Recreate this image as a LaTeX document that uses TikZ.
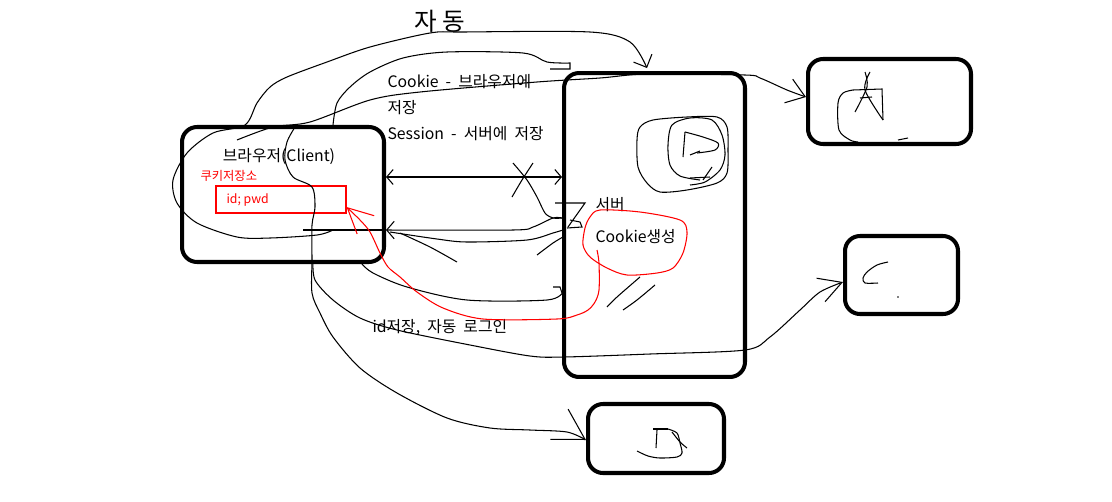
\documentclass[tikz,border=0pt]{standalone}
\usepackage{fontspec}
\newfontfamily\kr{Noto Sans CJK KR}
\usetikzlibrary{arrows.meta}
\newcommand\gap{\hspace{0.45em}}

\begin{document}
\begin{tikzpicture}[x=0.02cm, y=-0.02cm, line width=0.6pt,
    >={Straight Barb[length=3.5mm,width=5mm]},
    every node/.style={font=\kr\fontsize{9}{10}\selectfont, inner sep=0pt},
    box/.style={draw, line width=2.3pt, rounded corners=0.3cm},
    redpen/.style={red, line width=0.6pt},
    smalltip/.style={{Straight Barb[length=1.3mm,width=3mm]}-{Straight Barb[length=1.3mm,width=3mm]}}]
  \useasboundingbox (0,0) rectangle (1112,501);

  % Boxes
  \node[box, minimum width=4.04cm, minimum height=2.7cm] (client) at (283,194.5) {};
  \node[box, minimum width=3.62cm, minimum height=6.08cm] (server) at (654.5,225) {};
  \node[box, minimum width=3.26cm, minimum height=1.7cm] (abox) at (889.5,101.5) {};
  \node[box, minimum width=2.26cm, minimum height=1.56cm] (cbox) at (901.5,275) {};
  \node[box, minimum width=2.72cm, minimum height=1.38cm] (dbox) at (656,438.5) {};
  \node[draw=red, line width=0.6pt, minimum width=2.6cm, minimum height=0.54cm] (store) at (281,199.5) {};

  % Labels
  \node (browser) at (279,157) {브라우저(Client)};
  \node[anchor=west, red, font=\kr\fontsize{7}{8}\selectfont] (storelabel) at (200,176) {쿠키저장소};
  \node[anchor=west, red, font=\kr\fontsize{7}{8}\selectfont] (idpwd) at (226,200) {id; pwd};
  \node[anchor=west] (cookie) at (387,82) {Cookie\gap{}-\gap{}브라우저에};
  \node[anchor=west] (cookie2) at (387,108) {저장};
  \node[anchor=west] (session) at (387,134) {Session\gap{}-\gap{}서버에\gap{}저장};
  \node[anchor=west] (serverlabel) at (595,205) {서버};
  \node[anchor=west] (make) at (595,237) {Cookie생성};
  \node[anchor=west] (autologin) at (372,327) {id저장,\gap{}자동\gap{}로그인};
  \node[font=\kr\fontsize{14}{16}\selectfont] (auto) at (440,21) {자 동};

  % Connectors client <-> server
  \draw[smalltip] (client.east |- 0,177) -- (server.west |- 0,177);
  \draw[-{Straight Barb[length=1.5mm,width=3.5mm]}] plot[smooth] coordinates {(server.west |- 0,218) (553,218) (533,227) (513,230) (client.east |- 0,230)};
  \draw (client.east |- 0,230) -- (303,230);
  \draw plot[smooth] coordinates {(390,232) (437,239) (467,242) (527,240) (553,233) (563,230)};
  \draw plot[smooth] coordinates {(400,233) (430,247) (457,262)};
  \draw plot[smooth] coordinates {(537,255) (553,243) (563,237)};
  \draw plot[smooth] coordinates {(client.south -| 362,0) (373,273) (407,287) (467,300) (547,300) (563,292)};
  \draw (553,287) -- (560,287) -- (562,293);

  % Arcs over the top
  \draw[-{Straight Barb[length=2mm,width=4mm]}] plot[smooth] coordinates {(333,230) (317,235) (270,238) (237,237) (197,223) (177,203) (173,180) (187,153) (213,133) (245,125) (257,103) (270,87) (287,77) (327,62) (370,47) (430,33) (463,32) (590,32) (630,42) (647,68)};
  \draw plot[smooth] coordinates {(client.north -| 333,0) (337,103) (350,87) (370,72) (403,58) (447,52) (523,53) (547,62) (570,63)} -- (570,69) -- (550,69);
  \draw[->] plot[smooth] coordinates {(237,140) (273,127) (310,122) (370,100) (420,92) (537,82) (600,78) (647,74) (745,75) (760,78) (787,90) (abox.west |- 0,97)};

  % Connectors to C and D
  \draw[-{Straight Barb[length=6mm,width=7mm]}] plot[smooth] coordinates {(295,127) (287,142) (285,160) (293,177) (312,187) (315,207) (312,225) (312,260) (312,293) (320,313) (333,337) (360,368) (397,393) (447,418) (490,428) (530,430) (567,432) (dbox.west |- 0,440)};
  \draw[-{Straight Barb[length=4.5mm,width=5mm]}] plot[smooth] coordinates {(313,260) (315,280) (333,300) (360,318) (397,330) (470,345) (530,356) (564,357) (650,354) (745,350) (770,337) (800,310) (820,292) (cbox.west |- 0,282)};

  % Cookie creation
  \draw[redpen] plot[smooth cycle] coordinates {(600,210) (640,212) (680,220) (687,232) (683,253) (673,268) (657,273) (627,275) (607,268) (590,257) (583,245) (585,228) (590,217)};
  \draw[redpen,-{Straight Barb[length=5mm,width=5mm]}] plot[smooth] coordinates {(597,250) (599,263) (599,290) (595,302) (588,310) (577,315) (557,319) (483,319) (443,308) (417,292) (400,277) (388,267) (380,253) (370,232) (360,220) (store.east |- 0,207)};

  % Scribbles in the server
  \draw plot[smooth] coordinates {(513,163) (527,180) (537,197) (545,213) (553,218) (562,218)};
  \draw plot[smooth] coordinates {(533,163) (522,180) (512,197)};
  \draw (555,203) -- (585,203) -- (568,227);
  \draw (570,220) -- (580,222) -- (582,227) -- (567,228);
  \draw plot[smooth] coordinates {(640,277) (617,297) (607,307)};
  \draw plot[smooth] coordinates {(655,285) (637,300) (623,310)};
  \draw plot[smooth cycle] coordinates {(640,127) (653,120) (687,117) (717,117) (727,127) (728,150) (727,173) (717,183) (687,190) (660,192) (647,183) (638,167) (637,140)};
  \draw plot[smooth] coordinates {(700,180) (680,176) (670,165) (668,145) (672,125) (690,118) (712,120) (722,135) (725,155) (720,170) (705,182) (690,185)};
  \draw (685,132) -- (683,157);
  \draw plot[smooth] coordinates {(685,132) (703,137) (718,143) (715,150) (697,153)};
  \draw (690,155) -- (700,151);
  \draw (690,178) -- (710,177);
  \draw (703,180) -- (712,167);

  % Scribbles in A, C, D
  \draw plot[smooth] coordinates {(853,90) (843,93) (838,103) (839,130) (850,140) (858,142)};
  \draw (853,90) -- (882,89) -- (883,120);
  \draw plot[smooth] coordinates {(865,72) (867,87) (855,112)};
  \draw plot[smooth] coordinates {(870,72) (865,90) (883,120)};
  \draw (860,98) -- (872,97);
  \draw (898,140) -- (908,138);
  \draw plot[smooth] coordinates {(888,262) (877,265) (867,272) (863,278) (865,283) (878,283)};
  \fill (898,297) circle (0.5pt);
  \draw (653,429) -- (668,429);
  \draw (657,430) -- (656,448);
  \draw plot[smooth] coordinates {(668,429) (677,433) (680,443) (682,453) (677,457) (660,458) (648,456) (637,451)};
  \draw plot[smooth] coordinates {(672,432) (680,442) (687,448)};
\end{tikzpicture}
\end{document}
